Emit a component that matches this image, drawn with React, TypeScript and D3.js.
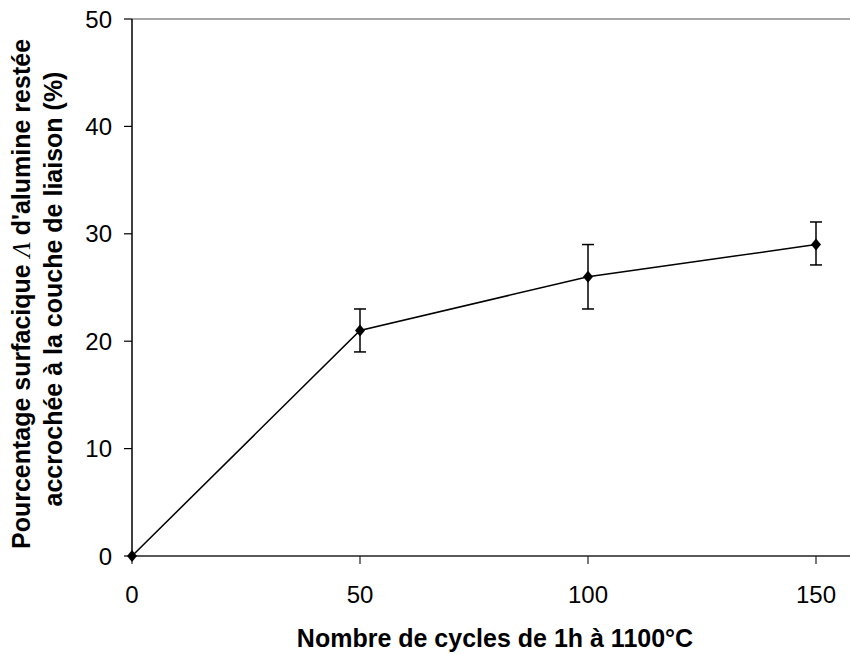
import React from "react";
import * as d3 from "d3";

const cycles = [0, 50, 100, 150];
const percent = [0, 21, 26, 29];
const errLow = [null, 19, 23, 27.1];
const errHigh = [null, 23, 29, 31.1];
const xTicks = [0, 50, 100, 150];
const yTicks = [0, 10, 20, 30, 40, 50];

const W = 850, H = 654;
const L = 132, R = 816, T = 19, B = 556;

export default function App() {
  const x = d3.scaleLinear().domain([0, 150]).range([L, R]);
  const y = d3.scaleLinear().domain([0, 50]).range([B, T]);
  const line = d3.line<number>().x((_, i) => x(cycles[i])).y((d) => y(d));
  const font = "Arial, 'Liberation Sans', sans-serif";
  return (
    <svg width={W} height={H} style={{ position: "absolute", left: 0, top: 0 }}>
      <rect width={W} height={H} fill="#fff" />
      <line x1={L} x2={W} y1={T} y2={T} stroke="#888" strokeWidth={1.5} />
      <line x1={L} x2={W} y1={B} y2={B} stroke="#222" strokeWidth={1.5} />
      <line x1={L} x2={L} y1={T} y2={B} stroke="#000" strokeWidth={1.5} />
      {yTicks.map((t) => (
        <g key={"y" + t}>
          <line x1={L - 8} x2={L} y1={y(t)} y2={y(t)} stroke="#000" strokeWidth={1.2} />
          <text x={L - 20} y={y(t)} dy="0.36em" textAnchor="end" fontFamily={font} fontSize={24} fill="#000">{t}</text>
        </g>
      ))}
      {xTicks.map((t) => (
        <g key={"x" + t}>
          <line x1={x(t)} x2={x(t)} y1={B} y2={B + 8} stroke="#222" strokeWidth={1.2} />
          <text x={x(t)} y={603} textAnchor="middle" fontFamily={font} fontSize={24} fill="#000">{t}</text>
        </g>
      ))}
      <path d={line(percent) || ""} fill="none" stroke="#000" strokeWidth={1.5} />
      {cycles.map((c, i) => {
        const lo = errLow[i], hi = errHigh[i];
        return (
          <g key={"e" + c}>
            {lo != null && hi != null && (
              <g stroke="#000" strokeWidth={1.5}>
                <line x1={x(c)} x2={x(c)} y1={y(lo)} y2={y(hi)} />
                <line x1={x(c) - 6} x2={x(c) + 6} y1={y(lo)} y2={y(lo)} />
                <line x1={x(c) - 6} x2={x(c) + 6} y1={y(hi)} y2={y(hi)} />
              </g>
            )}
            <path d={`M${x(c)},${y(percent[i]) - 6}L${x(c) + 5},${y(percent[i])}L${x(c)},${y(percent[i]) + 6}L${x(c) - 5},${y(percent[i])}Z`} fill="#000" />
          </g>
        );
      })}
      <text x={495} y={647} textAnchor="middle" fontFamily={font} fontWeight="bold" fontSize={25} fill="#000">Nombre de cycles de 1h à 1100°C</text>
      <g transform={`translate(30,${294}) rotate(-90)`}>
        <text x={0} y={0} textAnchor="middle" fontFamily={font} fontWeight="bold" fontSize={25} fill="#000">
          Pourcentage surfacique <tspan fontFamily="'Liberation Serif', 'DejaVu Serif', serif" fontStyle="italic" fontWeight="normal">Λ</tspan> d'alumine restée
        </text>
      </g>
      <g transform={`translate(62,${289}) rotate(-90)`}>
        <text x={0} y={0} textAnchor="middle" fontFamily={font} fontWeight="bold" fontSize={25} fill="#000">accrochée à la couche de liaison (%)</text>
      </g>
    </svg>
  );
}
